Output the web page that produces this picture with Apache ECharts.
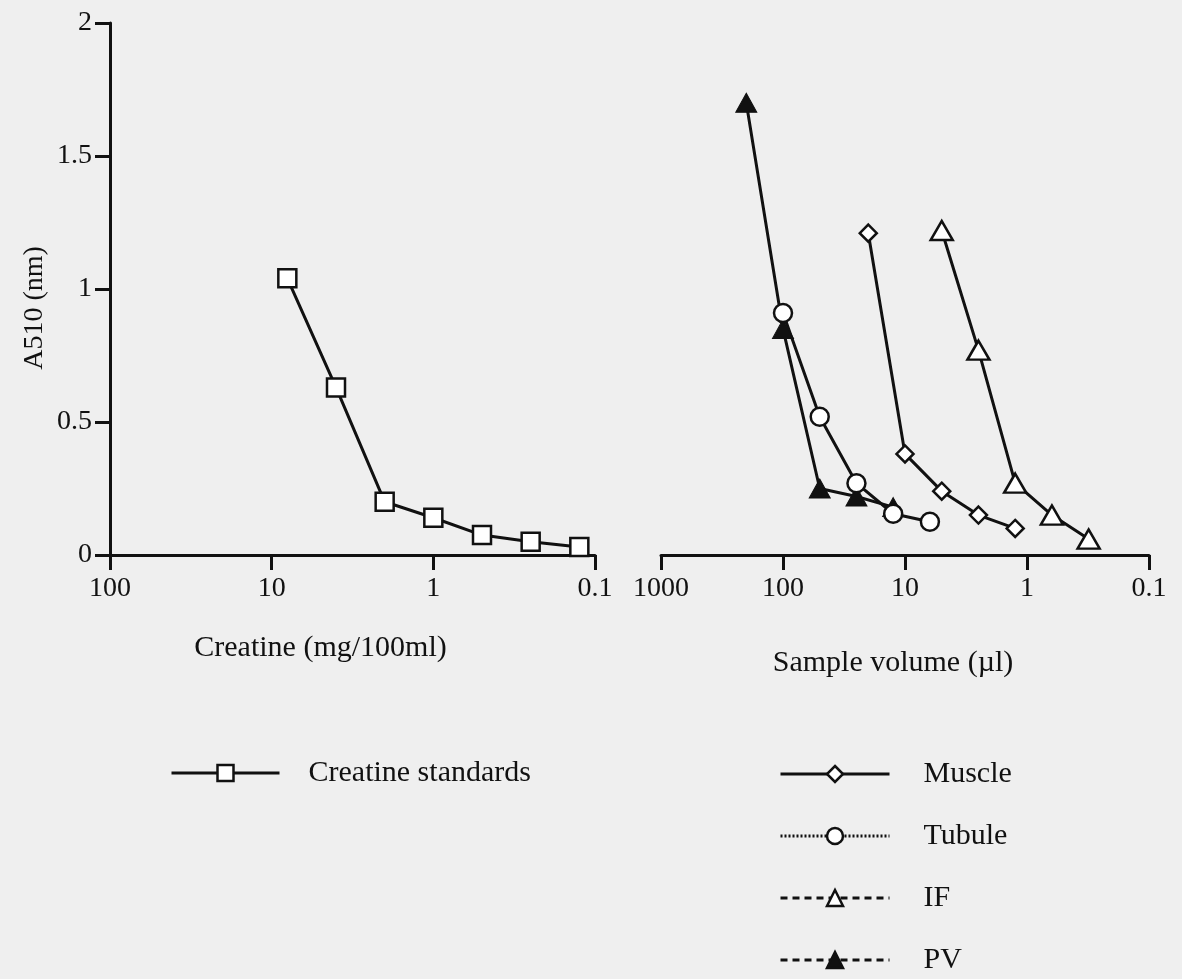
<!DOCTYPE html>
<html>
<head>
<meta charset="utf-8">
<script src="https://cdn.jsdelivr.net/npm/echarts@6/dist/echarts.min.js"></script>
<style>
  html, body { margin: 0; padding: 0; background: #efefef; }
  #chart { width: 1182px; height: 979px; }
</style>
</head>
<body>
<div id="chart"></div>
<script>
// Creatine standards: concentration (mg/100ml) vs absorbance
const creatineConc = [8, 4, 2, 1, 0.5, 0.25, 0.125];
const creatineA510 = [1.04, 0.63, 0.20, 0.14, 0.075, 0.05, 0.03];

// Samples: volume (µl) vs absorbance
const muscleVol  = [20, 10, 5, 2.5, 1.25];
const muscleA510 = [1.21, 0.38, 0.24, 0.15, 0.10];
const tubuleVol  = [100, 50, 25, 12.5, 6.25];
const tubuleA510 = [0.91, 0.52, 0.27, 0.155, 0.125];
const ifVol      = [5, 2.5, 1.25, 0.625, 0.3125];
const ifA510     = [1.22, 0.77, 0.27, 0.15, 0.06];
const pvVol      = [200, 100, 50, 25, 12.5];
const pvA510     = [1.70, 0.85, 0.25, 0.22, 0.18];

const yTicks = [0, 0.5, 1, 1.5, 2];

const FONT = 'Liberation Serif';
const INK = '#111';

const pairs = (xs, ys) => xs.map((x, i) => [x, ys[i]]);

const axisLineStyle = { color: INK, width: 3 };

function logXAxis(gridIndex, min, max, title, gap, shift) {
  return {
    type: 'log', logBase: 10, gridIndex, min, max, inverse: true,
    name: title, nameLocation: 'middle', nameGap: gap,
    nameTextStyle: { fontFamily: FONT, fontSize: 30, color: INK, padding: shift },
    axisLine: { show: true, lineStyle: axisLineStyle },
    axisTick: { show: true, length: 15, lineStyle: { color: INK, width: 3 } },
    minorTick: { show: false },
    splitLine: { show: false },
    axisLabel: { fontFamily: FONT, fontSize: 28, color: INK, margin: 20,
      formatter: v => String(v) }
  };
}

const openStyle = { color: '#fff', borderColor: INK, borderWidth: 2.5 };
const lineSolid = { color: INK, width: 3 };

function sampleSeries(name, xs, ys, symbol, size, itemStyle) {
  return {
    name, type: 'line', xAxisIndex: 1, yAxisIndex: 1,
    data: pairs(xs, ys), symbol, symbolSize: size,
    showSymbol: true, animation: false,
    lineStyle: lineSolid, itemStyle, emphasis: { disabled: true }
  };
}

const chart = echarts.init(document.getElementById('chart'), null, { renderer: 'canvas' });

chart.setOption({
  backgroundColor: '#efefef',
  animation: false,
  grid: [
    { left: 110, right: 587, top: 23, bottom: 424 },
    { left: 661, right: 33, top: 23, bottom: 424 }
  ],
  xAxis: [
    logXAxis(0, 0.1, 100, 'Creatine (mg/100ml)', 78, [0, 64, 0, 0]),
    logXAxis(1, 0.1, 1000, 'Sample volume (µl)', 93, [0, 24, 0, 0])
  ],
  yAxis: [
    {
      type: 'value', gridIndex: 0, min: yTicks[0], max: yTicks[yTicks.length - 1], interval: 0.5,
      name: 'A510 (nm)', nameLocation: 'middle', nameGap: 61,
      nameTextStyle: { fontFamily: FONT, fontSize: 28, color: INK, padding: [0, 38, 0, 0] },
      axisLine: { show: true, lineStyle: axisLineStyle },
      axisTick: { show: true, length: 15, lineStyle: { color: INK, width: 3 } },
      splitLine: { show: false },
      axisLabel: { fontFamily: FONT, fontSize: 28, color: INK, margin: 18 }
    },
    {
      type: 'value', gridIndex: 1, min: yTicks[0], max: yTicks[yTicks.length - 1], interval: 0.5,
      show: false, splitLine: { show: false }
    }
  ],
  legend: [
    {
      left: 170, top: 758, padding: 0, selectedMode: false,
      itemWidth: 108, itemHeight: 20,
      itemStyle: { borderWidth: 2.5 },
      textStyle: { fontFamily: FONT, fontSize: 30, color: INK, padding: [0, 0, 0, 24] },
      data: [{ name: 'Creatine standards', lineStyle: { width: 3 } }]
    },
    {
      left: 779, top: 759, padding: 0, orient: 'vertical', selectedMode: false,
      itemWidth: 109, itemHeight: 20, itemGap: 32,
      itemStyle: { borderWidth: 2.5 },
      textStyle: { fontFamily: FONT, fontSize: 30, color: INK, padding: [0, 0, 0, 29] },
      data: [
        { name: 'Muscle', lineStyle: { width: 3 } },
        { name: 'Tubule', lineStyle: { width: 3, type: [2, 2] } },
        { name: 'IF', lineStyle: { width: 3, type: [7, 5] } },
        { name: 'PV', lineStyle: { width: 3, type: [7, 5] } }
      ]
    }
  ],
  series: [
    {
      name: 'Creatine standards', type: 'line', xAxisIndex: 0, yAxisIndex: 0,
      data: pairs(creatineConc, creatineA510), symbol: 'rect', symbolSize: 18,
      lineStyle: lineSolid, itemStyle: openStyle, emphasis: { disabled: true }
    },
    sampleSeries('PV', pvVol, pvA510, 'triangle', [21, 19], { color: INK, borderColor: INK, borderWidth: 1 }),
    sampleSeries('Tubule', tubuleVol, tubuleA510, 'circle', 18, openStyle),
    sampleSeries('Muscle', muscleVol, muscleA510, 'diamond', 17, openStyle),
    sampleSeries('IF', ifVol, ifA510, 'triangle', [22, 19], openStyle)
  ]
});
</script>
</body>
</html>
